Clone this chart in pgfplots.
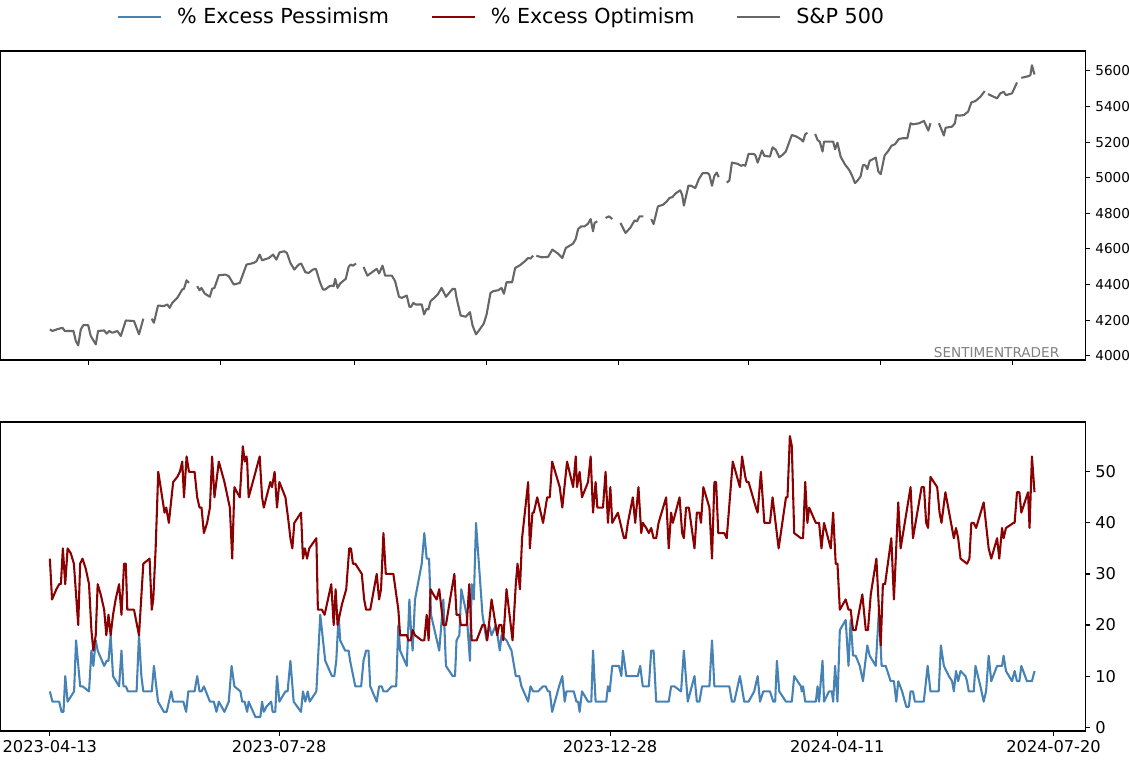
\documentclass[border=0pt]{standalone}
\usepackage{fontspec}
\setmainfont{DejaVu Sans}
\usepackage{pgfplots}
\pgfplotsset{compat=1.18}
\definecolor{pess}{HTML}{4682B4}
\definecolor{opt}{HTML}{8B0000}
\definecolor{spx}{HTML}{666666}
\begin{document}
\begin{tikzpicture}
\pgfplotsset{
  common/.style={
    scale only axis, width=781.2pt, height=222.48pt,
    xmin=-22.8, xmax=478.8,
    axis line style={line width=0.8pt, black},
    tick align=outside, major tick length=3.5pt,
    every tick/.style={black, line width=0.8pt},
    xtick pos=left, ytick pos=right, yticklabel pos=right,
    /pgf/number format/assume math mode=true,
    /pgf/number format/1000 sep={},
    unbounded coords=jump,
  }
}
% ---------- top panel: S&P 500 ----------
\begin{axis}[common, at={(0.4pt,287.28pt)}, anchor=south west,
  ymin=3976, ymax=5712,
  ytick={4000,4200,4400,4600,4800,5000,5200,5400,5600},
  xtick={18,79,141,202,263,323,384,445}, xticklabels={},
  yticklabel style={font=\fontsize{9.8}{11}\selectfont},
  legend columns=3,
  legend style={at={(rel axis cs:0.4608,1.110)}, anchor=center, draw=none, fill=none,
    font=\fontsize{14.9}{17}\selectfont, nodes={inner sep=0pt},
    /tikz/every even column/.append style={column sep=30pt},
    /tikz/every odd column/.append style={column sep=10.8pt}},
  legend image code/.code={\draw[#1] (0pt,0pt) -- (31pt,0pt);},
]
\addlegendimage{pess, line width=1.5pt}
\addlegendentry{\% Excess Pessimism}
\addlegendimage{opt, line width=1.5pt}
\addlegendentry{\% Excess Optimism}
\addplot[spx, line width=1.5pt, line join=round] coordinates {
(0,4148)(1.2,4139)(3.2,4148)(5.8,4157)(6.9,4139)(9.7,4139)(10.9,4139)(12.0,4083)(13.1,4058)(14.3,4148)(15.5,4172)(17.7,4172)(18.9,4111)(21.2,4064)(22.3,4139)(25.1,4142)(26.3,4124)(27.4,4139)(28.9,4129)(31.2,4139)(32.8,4111)(35.1,4198)(38.9,4195)(41.2,4120)(43.2,4208)
(45,nan)
(47.05,4208)(48.1,4185)(50.0,4282)(52.7,4279)(54.3,4288)(55.4,4269)(56.6,4297)(58.9,4325)(61.2,4372)(62.0,4376)(63.2,4424)(64.3,4409)
(66,nan)
(68.1,4391)(69.2,4368)(70.1,4381)(71.5,4350)(73.96,4331)(75.0,4376)(76.1,4381)(78.1,4452)(81.2,4456)(82.7,4447)(85.0,4400)(87.8,4409)(90.9,4512)(94.2,4521)(95.5,4531)(97.0,4568)(98.1,4536)(101.2,4549)(103.2,4568)(104.7,4540)(106.2,4581)(108.4,4587)(109.6,4577)(111.2,4521)(113.0,4484)(115.0,4512)(116.2,4518)(118.1,4469)(119.6,4465)(121.6,4484)(123.0,4488)(124.7,4419)(126.2,4372)(127.3,4372)(129.3,4391)(130.4,4394)(131.2,4391)(131.9,4432)(133.0,4381)(134.2,4406)(136.8,4432)(138.1,4499)(139.1,4512)(140.1,4506)(141.5,4518)
(143,nan)
(145.0,4499)(146.8,4450)(149.6,4475)(151.1,4488)(152.2,4462)(153.8,4506)(155.0,4450)(158.1,4450)(159.6,4419)(161.4,4331)(162.7,4325)(165.0,4338)(166.2,4275)(167.0,4275)(168.0,4297)(169.1,4288)(171.9,4288)(173.0,4232)(174.2,4264)(175.0,4260)(176.0,4307)(177.7,4325)(179.3,4344)(181.1,4381)(183.1,4331)(186.2,4376)(187.3,4376)(188.0,4325)(189.9,4226)(192.3,4219)(194.2,4245)(195.4,4170)(197.0,4120)(198.5,4144)(200.6,4181)(201.9,4232)(203.7,4353)(205.0,4363)(207.3,4368)(208.8,4381)(209.9,4348)(211.1,4413)(213.7,4413)(215.1,4493)(217.3,4508)(219.6,4531)(221.1,4549)(222.2,4546)(223.4,4562)
(224.2,nan)
(224.9,4562)(227.3,4553)(230.3,4555)(232.3,4596)(234.9,4574)(236.9,4549)(238.5,4605)(241.9,4630)(243.1,4656)(244.2,4712)(245.7,4727)(247.2,4727)(248.8,4742)(250.0,4768)(251.1,4699)(251.8,4746)(253.1,4755)
(255,nan)
(256.9,4774)(258.5,4783)(260.0,4768)
(262,nan)
(263.8,4746)(266.1,4690)(268.3,4718)(270.3,4760)(271.4,4755)(272.6,4783)(274.4,4783)
(276,nan)
(278.0,4768)(279.1,4740)(281.1,4839)(283.4,4848)(285.2,4867)(286.4,4886)(287.7,4891)(289.5,4914)(291.4,4929)(292.3,4904)(293.1,4843)(295.2,4955)(296.4,4955)(298.4,4942)(300.0,4992)(301.8,5026)(304.1,5026)(304.9,5016)(306.1,4955)(307.2,5011)(308.3,5029)(309.2,5003)
(311,nan)
(312.9,4973)(314.1,4983)(315.3,5085)(318.0,5078)(319.5,5067)(320.6,5072)(321.5,5067)(323.0,5134)(325.2,5134)(326.1,5128)(327.2,5085)(329.2,5153)(330.3,5123)(332.9,5119)(334.1,5171)(335.6,5156)(337.2,5115)(338.7,5128)(340.2,5147)(343.0,5240)(345.2,5231)(347.2,5216)(348.2,5203)(349.2,5244)(350.2,5253)
(352,nan)
(353.8,5246)(354.9,5212)(355.9,5203)(357.2,5147)(357.9,5203)(360.2,5203)(362.1,5203)(363.0,5160)(364.1,5197)(365.6,5117)(367.6,5074)(369.5,5044)(370.7,5016)(372.2,4970)(373.3,4983)(374.8,5007)(375.9,5072)(377.1,5069)(377.9,5048)(379.0,5095)(381.8,5113)(383.0,5035)(384.1,5020)(385.9,5125)(387.6,5151)(389.1,5180)(390.7,5188)(392.5,5218)(394.4,5222)(396.4,5222)(397.9,5306)(399.0,5300)(401.8,5306)(404.1,5319)(406.1,5265)(407.1,5306)
(409,nan)
(411.0,5306)(413.3,5237)(414.1,5281)(417.1,5287)(418.4,5306)(419.0,5352)(420.5,5349)(422.5,5352)(424.5,5371)(426.0,5423)(427.9,5431)(430.2,5455)(432.2,5487)
(433,nan)
(433.7,5470)(436.3,5455)(437.9,5446)(439.4,5474)(440.9,5483)(442.0,5464)(444.8,5474)(447.1,5535)
(448,nan)
(449.1,5561)(452.5,5571)(453.3,5576)(454.0,5632)(455.2,5580)
};
\addlegendentry{S\&P 500}
\node[anchor=base east, inner sep=0pt, text=gray, font=\fontsize{9.8}{11}\selectfont] at (rel axis cs:0.976,0.007) {SENTIMENTRADER};
\end{axis}
% ---------- bottom panel ----------
\begin{axis}[common, at={(0.4pt,20.16pt)}, anchor=south west,
  ymin=-0.75, ymax=59.75,
  ytick={0,10,20,30,40,50},
  xtick={0,106,259,364,464},
  xticklabels={2023-04-13,2023-07-28,2023-12-28,2024-04-11,2024-07-20},
  ticklabel style={font=\fontsize{11.7}{13}\selectfont},
]
\addplot[pess, line width=1.5pt, line join=round] coordinates {
(0,7)(1.2,5)(4.3,5)(5.4,3)(6.3,3)(7.1,10)(8.2,5)(9.7,6)(11.2,7)(12.1,17)(14,8)(15.1,8)(18.1,7)(19.2,15)(20.1,12)(21.2,17)(22.1,15)(25.1,12)(26.3,13)(27.1,13)(28.1,18)(29.2,10)(32,8)(33.1,15)(34,8)(35.1,8)(36.1,7)(40.1,7)(41.2,18)(42.3,10)(43.2,7)(47.1,7)(48.1,12)(50,5)(52.7,3)(54,3)(56.1,7)(57,5)(61.7,5)(63,3)(64,7)(66.9,7)(68.1,10)(69.2,7)(70.1,7)(71.2,8)(74,5)(75.8,5)(77,3)(78.1,5)(80.7,3)(82.7,5)(84,12)(85.3,8)(88.1,7)(88.9,5)(90,5)(91.2,3)(91.9,5)(95,2)(97.3,2)(98.1,5)(98.9,3)(100.1,4)(102.3,5)(103,3)(104.2,3)(105,10)(106.1,5)(108.9,7)(109.9,7)(111.2,13)(112.7,5)(116.1,3)(117,7)(118.1,5)(119.2,7)(120.1,5)(123.2,7)(125,22)(127.3,13)(130.4,10)(131.5,10)(132.4,13)(133.5,22)(134.2,17)(136.5,15)(138.1,15)(138.8,13)(141.2,8)(143.9,8)(145,13)(146.2,15)(147.3,15)(148.1,8)(151.1,5)(152.2,8)(153.4,8)(154.2,7)(155.8,7)(158.1,8)(160.1,8)(161.1,20)(161.9,15)(165,12)(166.2,25)(166.8,20)(167.7,15)(168.8,25)(171.9,32)(173.1,38)(174.2,33)(175.3,33)(176.2,22)(180,15)(181.9,25)(183.1,12)(186.2,10)(187.3,10)(188,17)(189.3,18)(190.2,27)(192.7,22)(194.2,13)(195,28)(196,25)(197,40)(200,22)(201.9,17)(203.1,20)(204.2,18)(206.2,20)(208,15)(208.8,18)(211.1,17)(213.4,15)(215.4,10)(217,10)(218,8)(221.1,5)(222.2,8)(223.4,7)(225.7,7)(228,8)(229.2,8)(230.3,7)(231.1,7)(232.2,3)(235.4,8)(236.9,10)(238,5)(238.8,7)(242.2,7)(243.4,5)(244.2,5)(244.9,3)(246,7)(248.8,5)(250.3,5)(251.1,15)(252.3,5)(257.2,5)(258,8)(258.8,7)(260,12)(263.1,12)(264.2,10)(264.9,15)(266.5,10)(271.8,10)(272.9,12)(274.1,8)(276.9,8)(278,15)(279.1,15)(280.3,5)(286.1,5)(287.2,8)(288.7,8)(291.8,7)(293.1,15)(294.9,5)(298,10)(299.1,5)(300.3,5)(301.5,8)(304.9,8)(306.1,17)(307.2,8)(314.1,8)(315.3,5)(316.4,5)(319,10)(321,5)(323,5)(325.6,7)(327.2,10)(328.3,5)(329.8,7)(332.9,7)(334.4,5)(335.3,5)(336.1,13)(337.2,7)(340.3,5)(343,5)(344.1,10)(347.2,8)(347.6,7)(348.2,8)(349.2,5)(354.1,5)(354.9,8)(355.6,5)(357.2,13)(357.9,5)(360.2,7)(361.5,7)(362.1,5)(363,12)(364.1,5)(365.2,19)(367.9,21)(369.2,12)(370.2,21)(371.3,14)(372.5,14)(374.4,12)(375.9,9)(377.9,16)(379,14)(381.8,12)(383.3,23)(384.5,12)(386.4,12)(388.7,9)(390.2,9)(391.3,5)(392.2,9)(394,7)(395.9,4)(397.1,4)(397.9,7)(399,7)(399.9,5)(404,5)(405.8,12)(407.1,7)(410.9,7)(411.9,16)(413.3,12)(415.6,10)(417.1,9)(417.9,7)(418.9,11)(419.9,9)(421,11)(423.3,10)(424,9)(424.8,7)(427.1,7)(427.9,12)(430.2,8)(431.7,5)(432.8,7)(434,14)(435.2,9)(437.9,12)(440.2,12)(440.9,14)(442,11)(444.8,9)(446,11)(447.1,9)(448.2,9)(449.1,12)(451.7,9)(454,9)(455.2,11)
};
\addplot[opt, line width=1.5pt, line join=round] coordinates {
(0,33)(1,25)(3,27)(4.3,28)(5.1,28)(6,35)(7.1,28)(8.2,35)(9.7,34)(11.1,32)(13.1,20)(14,32)(15.1,33)(16.6,31)(18.1,28)(19.2,19)(20.1,15)(21.2,18)(22.1,28)(23.5,26)(25.1,23)(26.1,18)(27.1,22)(28.1,18)(29.2,22)(30.4,25)(32,28)(33.1,22)(34.3,32)(35.1,32)(35.8,23)(38.9,23)(41.2,18)(43.2,32)(46.1,33)(47.1,23)(47.8,25)(48.9,35)(50.1,50)(51.2,47)(53,42)(53.8,43)(55,40)(57,48)(58.9,49)(60.1,50)(61.2,52)(62,45)(63.2,53)(64.3,50)(66.9,50)(68.1,45)(69.2,43)(70.1,43)(71.2,38)(72.7,40)(74,43)(75,53)(76.1,45)(78.1,52)(80.7,48)(83.2,43)(84.3,33)(85.3,47)(87.8,45)(89.2,55)(90.1,52)(90.9,53)(91.2,52)(91.9,45)(97,53)(98.1,45)(98.9,43)(101.9,48)(102.7,47)(103.9,50)(105,43)(106.1,48)(108.9,45)(110.4,40)(111.2,37)(112.1,35)(113,40)(116.1,42)(117,33)(117.9,35)(118.9,33)(119.9,35)(123.2,37)(123.9,23)(125.8,23)(127,22)(130.1,28)(131.2,20)(132.1,27)(133,20)(135,24)(137,27)(138.4,35)(139.2,35)(140.1,32)(141.2,32)(144.2,30)(145.3,25)(146.2,23)(148.1,23)(151.1,30)(152.2,25)(153.1,27)(154.2,38)(155.3,30)(158.8,30)(161.1,23)(161.9,18)(165,18)(165.8,17)(166.8,17)(167.7,19)(168.8,18)(171.9,17)(173.1,17)(174.2,22)(175.1,17)(176,27)(177.3,26)(178.8,25)(180,27)(181.9,20)(183.1,20)(185,25)(187,30)(188,22)(189.3,22)(190,20)(192.7,20)(193.9,28)(195,17)(197.3,17)(200,20)(201.1,20)(202.2,17)(204.2,25)(205.7,21)(206.8,18)(207.7,20)(208.8,20)(209.6,17)(211.1,27)(213.9,17)(215.4,28)(216.2,32)(217.3,27)(218.3,37)(221.1,48)(221.9,35)(223.1,42)(223.7,42)(225.3,45)(228,40)(229.9,45)(231.1,45)(232.2,52)(235.7,47)(236.9,43)(239.1,52)(241.9,47)(243.1,53)(243.7,47)(244.9,50)(246,45)(248.8,48)(250,53)(251.1,42)(252.3,48)(253.1,43)(255.7,43)(256.9,50)(258,40)(259.1,47)(260,40)(262.6,42)(265.4,37)(266.2,37)(267.2,40)(269.5,45)(270.6,40)(272.1,47)(273.4,38)(274.1,40)(275.7,39)(276.9,38)(278,39)(279.1,37)(280.3,37)(281.4,40)(284.9,45)(286.1,35)(287.2,42)(288,40)(291.1,45)(292.3,38)(293.1,37)(294.1,43)(295.4,43)(298,35)(299.1,42)(300.3,42)(301,40)(302.1,47)(304.9,43)(306.1,33)(307.2,48)(308,48)(309,38)(311.8,38)(312.9,37)(315.7,52)(319,47)(320,53)(321.5,49)(322.1,48)(323,48)(326.4,43)(327.2,42)(328.7,50)(330.3,40)(332.9,40)(334.1,45)(336.9,35)(340.3,45)(341,45)(342.1,57)(343,55)(344.1,38)(347.2,37)(348.2,37)(349.2,48)(350.2,40)(351,43)(354.1,40)(355.6,40)(356.7,35)(357.9,40)(361,35)(362.1,42)(363.3,32)(364.1,32)(365.2,23)(367.9,25)(369.2,23)(370.2,23)(371.3,19)(372.5,19)(375.6,26)(377.2,19)(378.2,19)(379.5,26)(382.1,33)(384.1,16)(385.1,28)(386.1,28)(389,37)(390.2,25)(392.2,44)(393.3,35)(397.9,47)(399,37)(403,47)(404.1,47)(405.1,40)(406,39)(407.1,49)(410.2,47)(411.3,42)(412.2,40)(414,46)(417.9,37)(418.9,39)(419.9,37)(421,33)(424,32)(425.1,33)(426,40)(427.1,40)(428.2,39)(431.7,44)(434,35)(435.2,33)(437.9,37)(438.9,33)(440.2,39)(440.9,37)(442,39)(445.5,40)(446,40)(447.1,46)(448.2,46)(449.1,42)(452.2,46)(452.9,39)(454,53)(455.2,46)
};
\end{axis}
\pgfresetboundingbox
\useasboundingbox (0,0) rectangle (812.88pt,546.48pt);
\end{tikzpicture}
\end{document}
